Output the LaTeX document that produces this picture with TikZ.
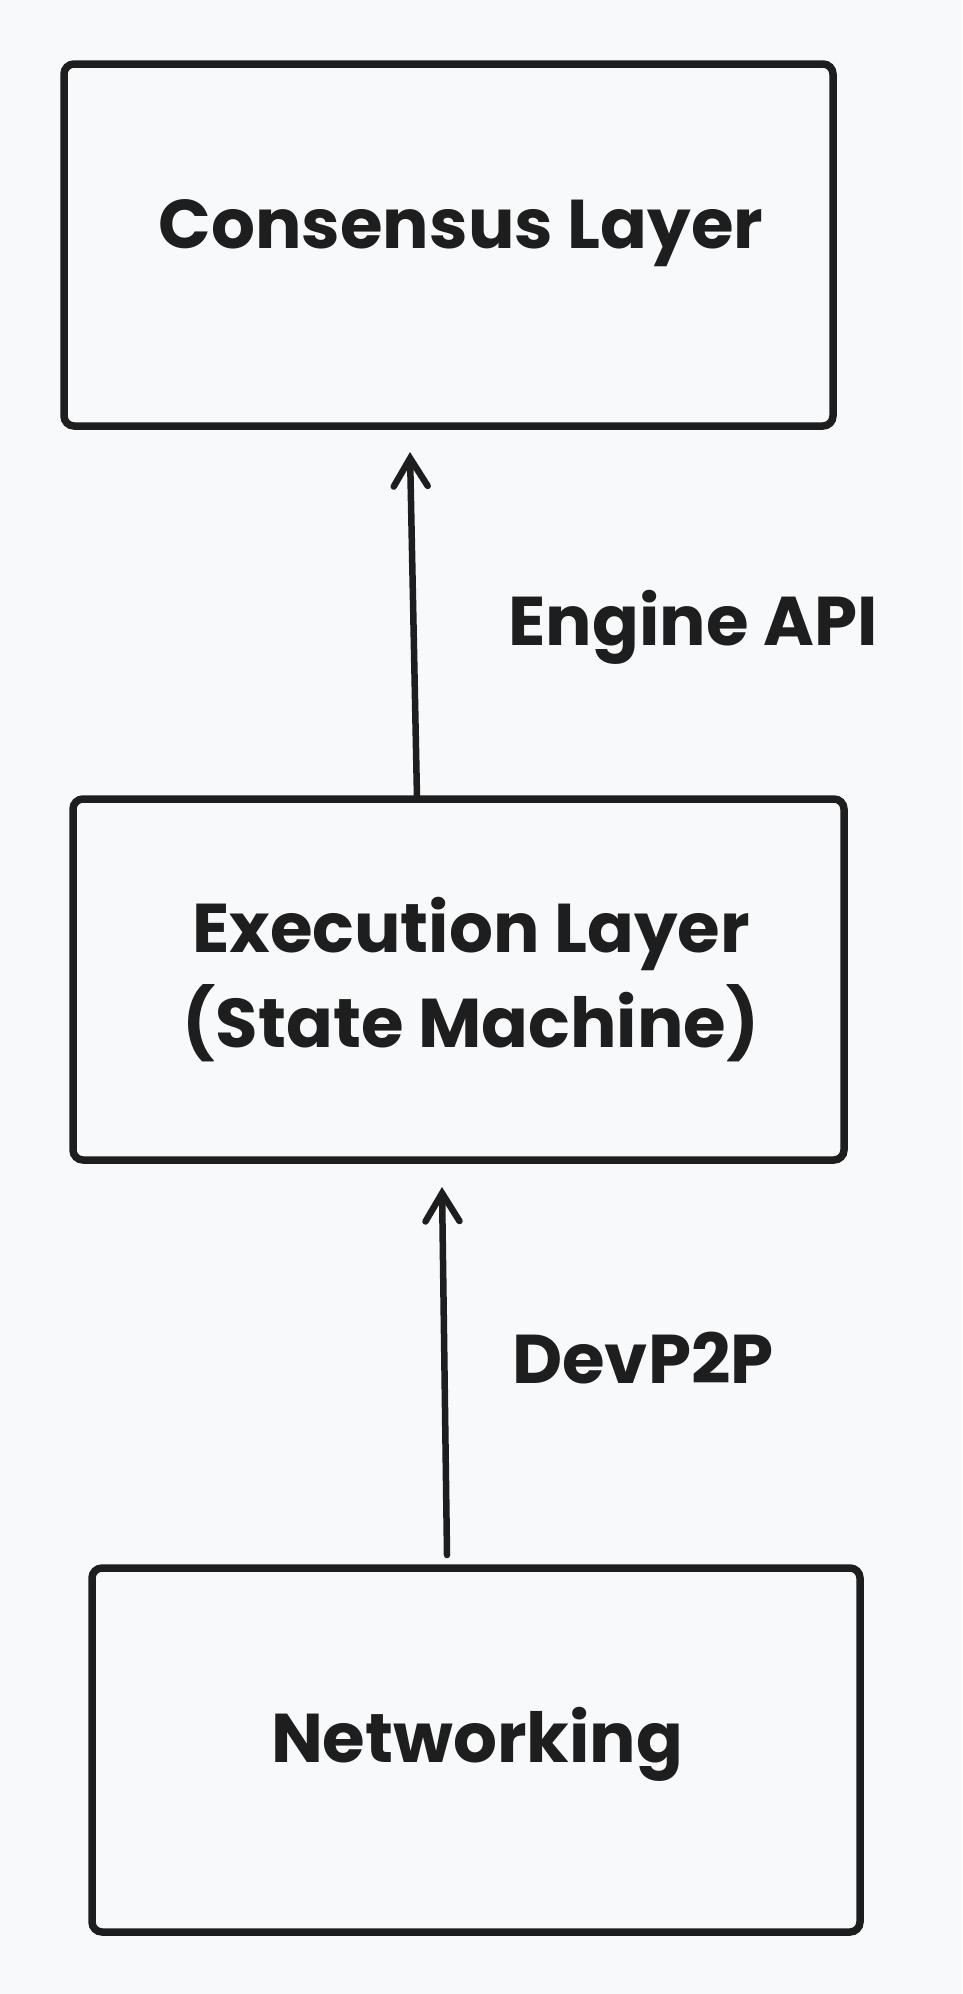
\documentclass[tikz,border=0pt]{standalone}
\usepackage{fontspec}
\setmainfont{Poppins}
\usetikzlibrary{arrows.meta}
\definecolor{bg}{HTML}{F8F9FA}
\definecolor{ink}{HTML}{1E1E1E}
\tikzset{
  layerbox/.style={draw=ink, line width=7.5pt, rounded corners=10pt, inner sep=0pt},
  lbl/.style={text=ink, font=\fontsize{69}{95}\selectfont\bfseries, inner sep=0pt, anchor=base, align=center},
  conn/.style={draw=ink, line width=6.5pt, line cap=round, -{Straight Barb[length=28pt, width=34pt, line cap=round]}}
}
\begin{document}
\begin{tikzpicture}[x=1pt, y=-1pt]
\fill[bg] (0,0) rectangle (962,1994);
\useasboundingbox (0,0) rectangle (962,1994);
% boxes
\node[layerbox, minimum width=769pt, minimum height=362pt] (cons) at (448.5,245) {};
\node[layerbox, minimum width=771pt, minimum height=361pt] (exec) at (458.5,979.5) {};
\node[layerbox, minimum width=768pt, minimum height=364pt] (net) at (476,1750) {};
% texts
\node[lbl] (consT) at (461,248) {Consensus Layer};
\node[lbl] (execT1) at (471,952) {Execution Layer};
\node[lbl] (execT2) at (471,1047) {(State Machine)};
\node[lbl] (netT) at (477,1762) {Networking};
\node[lbl] (engT) at (693,645) {Engine API};
\node[lbl] (devT) at (643,1383) {DevP2P};
% connectors
\coordinate (a1s) at (417,798);
\coordinate (a1e) at (410,452);
\coordinate (a2s) at (447,1555);
\coordinate (a2e) at (442,1187);
\draw[conn] (a1s) -- (a1e);
\draw[conn] (a2s) -- (a2e);
\end{tikzpicture}
\end{document}
